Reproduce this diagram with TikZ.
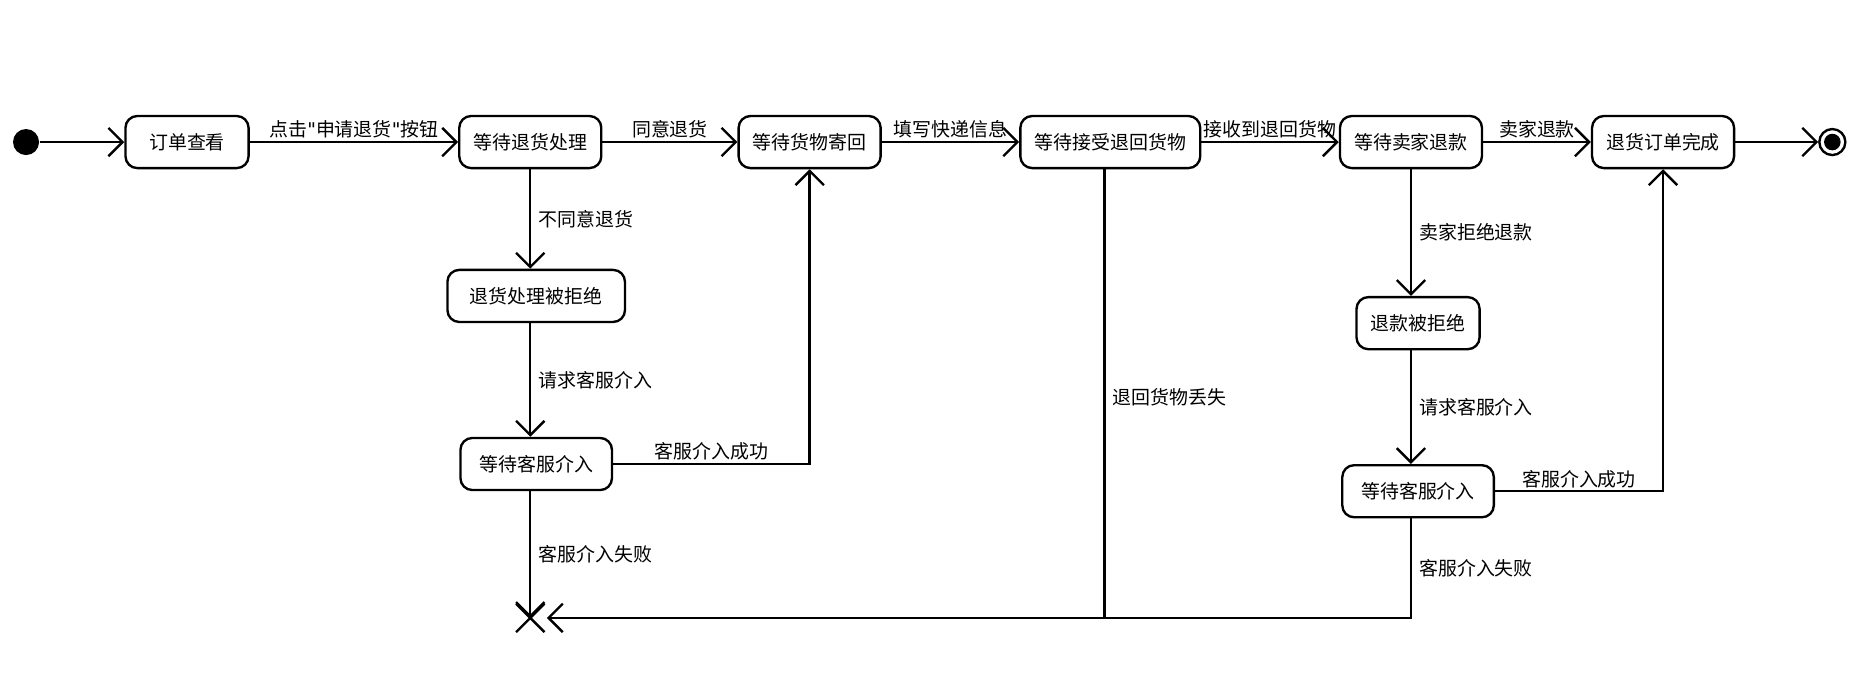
\documentclass[tikz,border=0pt]{standalone}
\usepackage{fontspec}
\setmainfont{Noto Sans CJK SC}
\newfontfamily\lat{DejaVu Sans}
\usetikzlibrary{arrows.meta}
\begin{document}
\begin{tikzpicture}[x=0.5pt,y=-0.5pt,
  st/.style={draw,line width=1pt,rounded corners=5pt,minimum height=22pt,inner xsep=6pt,font=\fontsize{8}{10}\selectfont},
  ar/.style={line width=1pt,-{Straight Barb[length=6pt,width=12pt,line width=1pt]}},
  ln/.style={line width=1pt},
  lb/.style={font=\fontsize{8}{10}\selectfont,inner sep=1pt}]
\useasboundingbox (0,0) rectangle (1568,585);
\node[st,minimum width=52pt] (a) at (158,120) {订单查看};
\node[circle,fill,inner sep=0,minimum size=11pt] (s) at (22,120) {};
\node[st,minimum width=58pt] (b) at (448,120) {等待退货处理};
\node[st,minimum width=58pt] (c) at (684,120) {等待货物寄回};
\node[st,minimum width=76pt] (d) at (938,120) {等待接受退回货物};
\node[st,minimum width=58pt] (e) at (1192,120) {等待卖家退款};
\node[st,minimum width=58pt] (f) at (1405,120) {退货订单完成};
\node[circle,draw,line width=1pt,inner sep=0,minimum size=11pt] (t) at (1548,120) {};
\node[circle,fill,inner sep=0,minimum size=7pt] at (t) {};
\node[st,minimum width=75pt] (g) at (453,250) {退货处理被拒绝};
\node[st,minimum width=64pt] (h) at (453,392) {等待客服介入};
\node[st,minimum width=52pt] (i) at (1198,273) {退款被拒绝};
\node[st,minimum width=64pt] (j) at (1198,415) {等待客服介入};
\coordinate (x) at (448,522);
\draw[ln] (436,510) -- (460,534) (436,534) -- (460,510);
\coordinate (dd) at (933,142);

\draw[ar] (s) -- (a);
\draw[ar] (a) -- node[lb,above]{点击{\lat"}申请退货{\lat"}按钮} (b);
\draw[ar] (b) -- node[lb,above]{同意退货} (c);
\draw[ar] (c) -- node[lb,above]{填写快递信息} (d);
\draw[ar] (d) -- node[lb,above]{接收到退回货物} (e);
\draw[ar] (e) -- node[lb,above]{卖家退款} (f);
\draw[ar] (f) -- (t);
\draw[ar] (b.south) -- node[lb,right=2pt]{不同意退货} (b.south |- g.north);
\draw[ar] (b.south |- g.south) -- node[lb,right=2pt]{请求客服介入} (b.south |- h.north);
\draw[ar] (b.south |- h.south) -- node[lb,right=2pt]{客服介入失败} (x);
\draw[ar] (h.east) -- node[lb,above,pos=0.5]{客服介入成功} (c.south |- h.east) -- (c.south);
\draw[ar] (e.south) -- node[lb,right=2pt]{卖家拒绝退款} (e.south |- i.north);
\draw[ar] (e.south |- i.south) -- node[lb,right=2pt]{请求客服介入} (e.south |- j.north);
\draw[ar] (j.east) -- node[lb,above,pos=0.5]{客服介入成功} (f.south |- j.east) -- (f.south);
\draw[ln] (dd) -- node[lb,right=2pt,pos=0.51]{退回货物丢失} (dd |- x);
\draw[ln] (e.south |- j.south) -- node[lb,right=2pt]{客服介入失败} (e.south |- x) -- (dd |- x);
\draw[ar] (dd |- x) -- (462,522);
\end{tikzpicture}
\end{document}
